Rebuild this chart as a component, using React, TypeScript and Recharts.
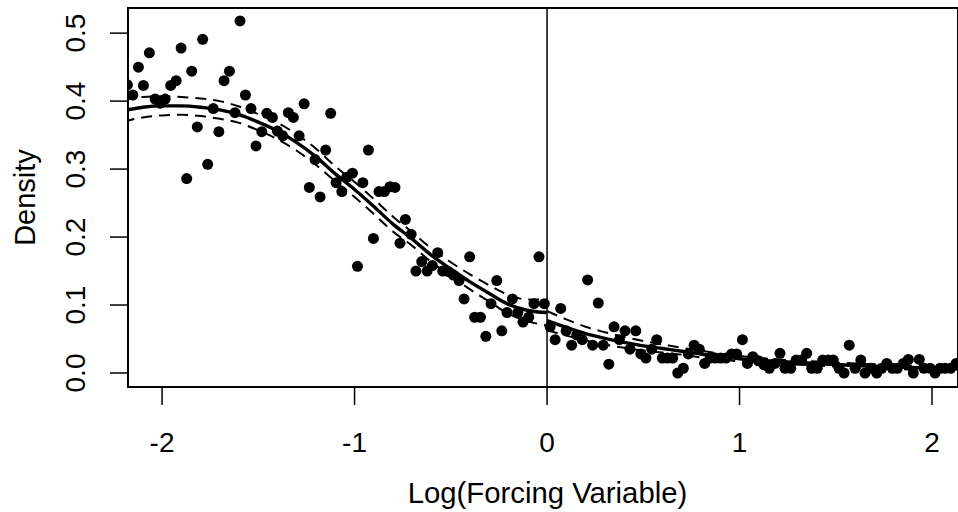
import React from 'react';
import { ComposedChart, Scatter, Line, XAxis, YAxis, ReferenceLine, ReferenceArea } from 'recharts';

const xTicks = [-2, -1, 0, 1, 2];
const yTicks = [0, 0.1, 0.2, 0.3, 0.4, 0.5];

const pointX = [
  -2.180, -2.152, -2.123, -2.097, -2.066, -2.036, -2.010, -1.984, -1.955, -1.927,
  -1.901, -1.872, -1.846, -1.817, -1.789, -1.763, -1.734, -1.705, -1.678, -1.650,
  -1.621, -1.595, -1.567, -1.538, -1.512, -1.482, -1.456, -1.427, -1.401, -1.373,
  -1.344, -1.318, -1.288, -1.262, -1.235, -1.205, -1.179, -1.150, -1.124, -1.096,
  -1.066, -1.041, -1.011, -0.985, -0.957, -0.928, -0.902, -0.873, -0.845, -0.816,
  -0.790, -0.764, -0.736, -0.706, -0.681, -0.651, -0.623, -0.596, -0.568, -0.542,
  -0.513, -0.487, -0.457, -0.431, -0.402, -0.376, -0.346, -0.318, -0.291, -0.261,
  -0.235, -0.208, -0.180, -0.152, -0.125, -0.095, -0.068, -0.042, -0.014,
  0.016, 0.042, 0.071, 0.099, 0.128, 0.154, 0.183, 0.211, 0.237, 0.266,
  0.292, 0.321, 0.348, 0.376, 0.405, 0.431, 0.461, 0.487, 0.514, 0.544,
  0.570, 0.599, 0.625, 0.653, 0.679, 0.708, 0.734, 0.764, 0.791, 0.819,
  0.847, 0.874, 0.902, 0.930, 0.959, 0.985, 1.015, 1.041, 1.069, 1.098,
  1.127, 1.155, 1.184, 1.210, 1.236, 1.266, 1.294, 1.323, 1.349, 1.375,
  1.404, 1.432, 1.461, 1.487, 1.517, 1.543, 1.570, 1.600, 1.630, 1.652,
  1.682, 1.713, 1.739, 1.765, 1.794, 1.820, 1.851, 1.877, 1.903, 1.934,
  1.958, 1.990, 2.016, 2.042, 2.068, 2.097, 2.125,
];

const pointY = [
  0.424, 0.409, 0.450, 0.423, 0.471, 0.403, 0.397, 0.403, 0.423, 0.430,
  0.478, 0.286, 0.444, 0.362, 0.491, 0.307, 0.389, 0.355, 0.430, 0.444,
  0.383, 0.518, 0.409, 0.389, 0.334, 0.355, 0.382, 0.376, 0.356, 0.349,
  0.383, 0.376, 0.349, 0.396, 0.273, 0.314, 0.259, 0.328, 0.382, 0.280,
  0.267, 0.288, 0.294, 0.157, 0.280, 0.328, 0.198, 0.267, 0.267, 0.274,
  0.273, 0.191, 0.226, 0.204, 0.150, 0.164, 0.150, 0.158, 0.177, 0.150,
  0.149, 0.144, 0.136, 0.109, 0.171, 0.082, 0.082, 0.054, 0.102, 0.136,
  0.062, 0.089, 0.109, 0.089, 0.075, 0.082, 0.102, 0.171, 0.102,
  0.068, 0.049, 0.095, 0.062, 0.041, 0.056, 0.049, 0.137, 0.041, 0.103,
  0.041, 0.013, 0.068, 0.049, 0.062, 0.035, 0.062, 0.028, 0.022, 0.035,
  0.049, 0.022, 0.022, 0.022, 0.000, 0.007, 0.028, 0.041, 0.035, 0.014,
  0.022, 0.022, 0.022, 0.022, 0.028, 0.028, 0.049, 0.014, 0.024, 0.018,
  0.012, 0.007, 0.014, 0.029, 0.007, 0.007, 0.019, 0.019, 0.029, 0.007,
  0.007, 0.019, 0.019, 0.019, 0.007, 0.000, 0.041, 0.007, 0.019, 0.000,
  0.007, 0.000, 0.007, 0.014, 0.007, 0.007, 0.014, 0.020, 0.000, 0.020,
  0.007, 0.007, 0.000, 0.007, 0.007, 0.007, 0.014,
];

const leftCurveX = [-2.2, -2.1, -2.0, -1.9, -1.8, -1.7, -1.6, -1.5, -1.4, -1.3, -1.2, -1.1, -1.0, -0.9, -0.8, -0.7, -0.6, -0.5, -0.4, -0.3, -0.2, -0.1, 0.0];
const leftFit = [0.386, 0.391, 0.393, 0.393, 0.391, 0.387, 0.380, 0.369, 0.356, 0.339, 0.318, 0.293, 0.270, 0.245, 0.219, 0.197, 0.173, 0.153, 0.134, 0.117, 0.101, 0.092, 0.089];
const leftHi = [0.402, 0.406, 0.407, 0.406, 0.404, 0.400, 0.392, 0.381, 0.368, 0.351, 0.330, 0.304, 0.281, 0.256, 0.230, 0.207, 0.183, 0.163, 0.145, 0.129, 0.115, 0.108, 0.108];
const leftLo = [0.370, 0.376, 0.379, 0.380, 0.378, 0.374, 0.368, 0.357, 0.344, 0.327, 0.306, 0.282, 0.259, 0.234, 0.208, 0.187, 0.163, 0.143, 0.123, 0.105, 0.087, 0.076, 0.070];

const rightCurveX = [0.0, 0.1, 0.2, 0.3, 0.4, 0.5, 0.6, 0.7, 0.8, 0.9, 1.0, 1.2, 1.4, 1.6, 1.8, 2.0, 2.2];
const rightFit = [0.077, 0.067, 0.058, 0.051, 0.045, 0.040, 0.036, 0.032, 0.028, 0.024, 0.021, 0.017, 0.014, 0.011, 0.009, 0.007, 0.006];
const rightHi = [0.091, 0.079, 0.068, 0.060, 0.053, 0.047, 0.042, 0.037, 0.033, 0.028, 0.025, 0.020, 0.017, 0.014, 0.012, 0.010, 0.009];
const rightLo = [0.063, 0.055, 0.048, 0.042, 0.037, 0.033, 0.030, 0.027, 0.023, 0.020, 0.017, 0.014, 0.011, 0.008, 0.006, 0.004, 0.003];

const points = pointX.map((x, i) => ({ x, y: pointY[i] }));
const leftData = leftCurveX.map((x, i) => ({ x, fit: leftFit[i], hi: leftHi[i], lo: leftLo[i] }));
const rightData = rightCurveX.map((x, i) => ({ x, fit: rightFit[i], hi: rightHi[i], lo: rightLo[i] }));

const FONT = '"Liberation Sans", Arial, Helvetica, sans-serif';
const X_MIN = -2.177;
const X_MAX = 2.135;
const Y_MIN = -0.0206;
const Y_MAX = 0.537;

const XTick = (props: any) => {
  const { x, y, payload } = props;
  return (
    <text x={x} y={y} dy={47} textAnchor="middle" fontSize={28} fontFamily={FONT} fill="#000">
      {String(payload.value)}
    </text>
  );
};

const YTick = (props: any) => {
  const { x, y, payload } = props;
  const bx = x - 25;
  return (
    <text x={bx} y={y} transform={`rotate(-90 ${bx} ${y})`} textAnchor="middle" fontSize={28} fontFamily={FONT} fill="#000">
      {Number(payload.value).toFixed(1)}
    </text>
  );
};

const XTitle = () => (
  <text x={547.5} y={503} textAnchor="middle" fontSize={29.3} fontFamily={FONT} fill="#000">
    Log(Forcing Variable)
  </text>
);

const YTitle = () => (
  <text x={35} y={197.5} transform="rotate(-90 35 197.5)" textAnchor="middle" fontSize={29} fontFamily={FONT} fill="#000">
    Density
  </text>
);

export default function App() {
  return (
    <div style={{ position: 'absolute', left: 0, top: 0, width: 958, height: 512, background: '#fff' }}>
      <ComposedChart width={958} height={512} margin={{ top: 8, right: 0, bottom: 0, left: 0 }}>
        <XAxis
          type="number"
          dataKey="x"
          domain={[X_MIN, X_MAX]}
          ticks={xTicks}
          allowDataOverflow
          axisLine={false}
          tickLine={{ stroke: '#000', strokeWidth: 1.5 }}
          tickSize={18}
          tickMargin={0}
          height={125}
          tick={<XTick />}
          label={XTitle}
        />
        <YAxis
          type="number"
          dataKey="y"
          domain={[Y_MIN, Y_MAX]}
          ticks={yTicks}
          allowDataOverflow
          axisLine={false}
          tickLine={{ stroke: '#000', strokeWidth: 1.5 }}
          tickSize={18}
          tickMargin={0}
          width={128}
          tick={<YTick />}
          label={YTitle}
        />
        <ReferenceLine x={0} stroke="#000" strokeWidth={1.5} />
        <Scatter data={points} dataKey="y" fill="#000" isAnimationActive={false} shape={(p: any) => <circle cx={p.cx} cy={p.cy} r={5.5} fill="#000" />} />
        <Line data={leftData} dataKey="fit" type="monotone" stroke="#000" strokeWidth={3.4} dot={false} isAnimationActive={false} />
        <Line data={leftData} dataKey="hi" type="monotone" stroke="#000" strokeWidth={2} strokeDasharray="11 7" dot={false} isAnimationActive={false} />
        <Line data={leftData} dataKey="lo" type="monotone" stroke="#000" strokeWidth={2} strokeDasharray="11 7" dot={false} isAnimationActive={false} />
        <Line data={rightData} dataKey="fit" type="monotone" stroke="#000" strokeWidth={3.4} dot={false} isAnimationActive={false} />
        <Line data={rightData} dataKey="hi" type="monotone" stroke="#000" strokeWidth={2} strokeDasharray="11 7" dot={false} isAnimationActive={false} />
        <Line data={rightData} dataKey="lo" type="monotone" stroke="#000" strokeWidth={2} strokeDasharray="11 7" dot={false} isAnimationActive={false} />
        <ReferenceArea x1={X_MIN} x2={X_MAX} y1={Y_MIN} y2={Y_MAX} fill="none" fillOpacity={0} stroke="#000" strokeWidth={2} ifOverflow="visible" />
      </ComposedChart>
    </div>
  );
}
